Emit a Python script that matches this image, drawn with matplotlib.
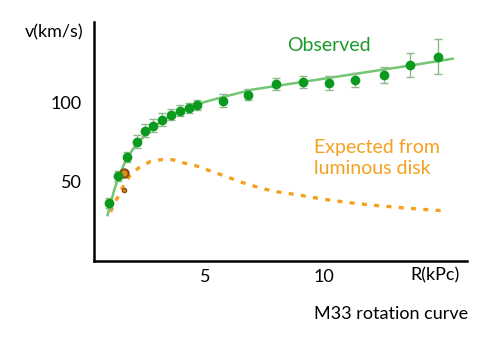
import matplotlib
matplotlib.use('Agg')
import matplotlib.pyplot as plt

plt.rcParams['font.family'] = ['Lato', 'DejaVu Sans']

# observed rotation speeds of M33 (R in kpc, v in km/s)
r_obs = [1.0, 1.34, 1.72, 2.14, 2.48, 2.82, 3.19, 3.57, 3.95, 4.33, 4.66,
         5.76, 6.81, 7.98, 9.12, 10.2, 11.3, 12.5, 13.6, 14.8]
v_obs = [36.7, 53.8, 65.8, 75.3, 82.3, 85.4, 89.2, 92.4, 94.9, 96.8, 98.7,
         101.3, 105, 112, 113.3, 112.7, 114.6, 117.7, 124, 129]
v_err = [3, 3, 3, 4, 4, 4, 4, 3.5, 3.5, 3, 3,
         4, 3.5, 3.8, 3.8, 4.4, 4.4, 5, 7.5, 11]

# smooth fit through the observed points
r_fit = [0.92, 1.0, 1.2, 1.4, 1.7, 2.0, 2.4, 2.8, 3.2, 3.6, 4.0, 4.5, 5.0,
         5.5, 6.0, 7.0, 8.0, 9.0, 10.0, 11.0, 12.0, 13.0, 14.0, 15.4]
v_fit = [29, 34, 45, 54, 64, 71, 78, 84, 88.5, 92, 95, 98, 100.5,
         102.5, 104.5, 108.3, 110.6, 112.9, 115.2, 117.5, 119.8, 122.1, 124.4, 127.8]

# expected curve from the luminous disk
r_disk = [1.05, 1.13, 1.35, 1.6, 1.85, 2.23, 2.69, 3.15, 3.65, 4.12, 4.66, 5.1,
          5.6, 6.05, 6.5, 6.9, 7.5, 8.0, 8.9, 10, 11, 12, 13, 14, 15.1]
v_disk = [31, 34, 40.5, 48, 53.8, 58.9, 62.7, 64, 64, 62, 60, 57.6,
          55, 52.5, 50, 48, 45.5, 43.8, 41.8, 39, 37, 35.3, 34, 32.8, 31.6]

# leftover marks near the inner disk
r_extra = [1.6, 1.6]
v_extra = [55.7, 45]

fig = plt.figure(figsize=(5, 3.47), dpi=100)
ax = fig.add_axes([94 / 500, 1 - 261 / 347, 373 / 500, 239 / 347])

ax.plot(r_disk, v_disk, color='#f5a01e', lw=2.4, linestyle=(0, (1.5, 2.2)))
ax.plot(r_fit, v_fit, color='#72c672', lw=1.8)
ax.errorbar(r_obs, v_obs, yerr=v_err, fmt='o', color='#0c9a1e', ms=6,
            ecolor='#8cba8c', elinewidth=1, capsize=3, capthick=1)
ax.plot(r_extra[0], v_extra[0], 'o', ms=6, mfc='#d8901c', mec='#8a4a16', mew=1.5)
ax.plot(r_extra[1], v_extra[1], 'o', ms=3, mfc='#d8901c', mec='#8a4a16', mew=1)

ax.set_xlim(0.35, 16.0)
ax.set_ylim(0, 151)
ax.set_xticks([5, 10])
ax.set_yticks([50, 100])
ax.tick_params(length=0, labelsize=13, colors='black')
ax.tick_params(axis='y', pad=9)
ax.tick_params(axis='x', pad=6)
for s in ['top', 'right']:
    ax.spines[s].set_visible(False)
for s in ['left', 'bottom']:
    ax.spines[s].set_linewidth(1.8)

ax.text(14.67, -0.028, 'R(kPc)', transform=ax.get_xaxis_transform(),
        ha='center', va='top', fontsize=13)
ax.text(10.2, 136, 'Observed', color='#1a9a28', fontsize=14, ha='center', va='center')
ax.text(9.6, 65, 'Expected from\nluminous disk', color='#f5a01e', fontsize=14,
        ha='left', va='center', linespacing=1.25)

fig.text(54 / 500, 1 - 32 / 347, 'v(km/s)', ha='center', va='center', fontsize=13)
fig.text(391 / 500, 1 - 314 / 347, 'M33 rotation curve', ha='center', va='center', fontsize=13)

fig.savefig('out.png', dpi=100)
